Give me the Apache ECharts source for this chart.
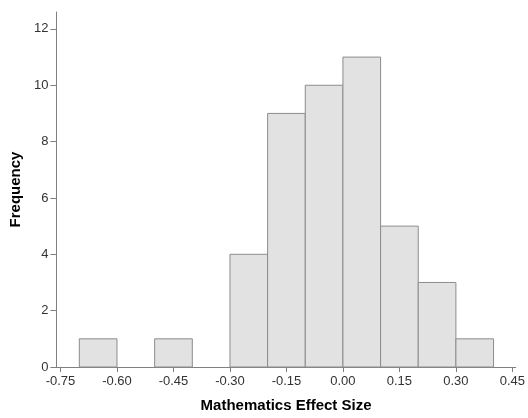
<!DOCTYPE html>
<html>
<head>
<meta charset="utf-8">
<script src="https://cdn.jsdelivr.net/npm/echarts@6/dist/echarts.min.js"></script>
<style>
html,body{margin:0;padding:0;background:#fff;}
#chart{width:528px;height:418px;}
</style>
</head>
<body>
<div id="chart"></div>
<script>
// Histogram bins (Mathematics Effect Size) and frequencies
const binStarts = [-0.70, -0.50, -0.30, -0.20, -0.10, 0.00, 0.10, 0.20, 0.30];
const binEnds   = [-0.60, -0.40, -0.20, -0.10, 0.00, 0.10, 0.20, 0.30, 0.40];
const counts    = [1, 1, 4, 9, 10, 11, 5, 3, 1];
const xTicks = [-0.75, -0.60, -0.45, -0.30, -0.15, 0.00, 0.15, 0.30, 0.45];
const yTicks = [0, 2, 4, 6, 8, 10, 12];

const data = binStarts.map((s, i) => [s, binEnds[i], counts[i]]);

const chart = echarts.init(document.getElementById('chart'), null, {renderer: 'canvas'});
const labelFont = {fontFamily: 'Liberation Sans, Arial, sans-serif', fontSize: 13, color: '#333'};
const nameFont = {fontFamily: 'Liberation Sans, Arial, sans-serif', fontSize: 15, fontWeight: 'bold', color: '#000'};
chart.setOption({
  animation: false,
  backgroundColor: '#fff',
  grid: {left: 52, right: 10, top: 12, bottom: 46, containLabel: false},
  xAxis: {
    type: 'value',
    min: -0.761, max: 0.459,
    name: 'Mathematics Effect Size',
    nameLocation: 'middle',
    nameGap: 31,
    nameTextStyle: nameFont,
    axisLine: {show: true, onZero: false, lineStyle: {color: '#808080', width: 1}},
    axisTick: {show: true, length: 5, lineStyle: {color: '#808080'}, customValues: xTicks},
    axisLabel: Object.assign({customValues: xTicks, margin: 8, formatter: v => v.toFixed(2)}, labelFont),
    splitLine: {show: false}
  },
  yAxis: {
    type: 'value',
    min: 0, max: 12.6,
    name: 'Frequency',
    nameLocation: 'middle',
    nameGap: 27,
    nameTextStyle: nameFont,
    axisLine: {show: true, onZero: false, lineStyle: {color: '#808080', width: 1}},
    axisTick: {show: true, length: 6, lineStyle: {color: '#808080'}, customValues: yTicks},
    axisLabel: Object.assign({customValues: yTicks, margin: 8}, labelFont),
    splitLine: {show: false}
  },
  series: [{
    type: 'custom',
    data: data,
    encode: {x: [0, 1], y: 2},
    renderItem: function (params, api) {
      const p0 = api.coord([api.value(0), api.value(2)]);
      const p1 = api.coord([api.value(1), 0]);
      return {
        type: 'rect',
        shape: {x: p0[0], y: p0[1], width: p1[0] - p0[0], height: p1[1] - p0[1]},
        style: {fill: '#e2e2e2', stroke: '#8c8c8c', lineWidth: 1}
      };
    }
  }]
});
</script>
</body>
</html>
